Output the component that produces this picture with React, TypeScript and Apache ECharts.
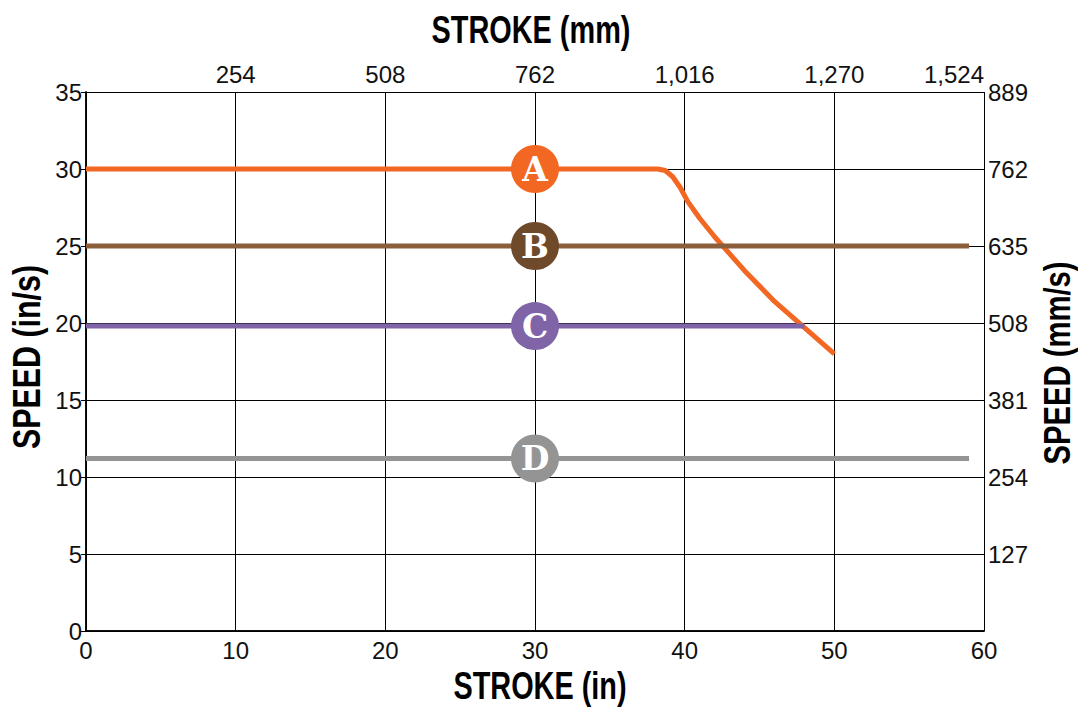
import React, { useEffect, useRef } from "react";
import * as echarts from "echarts";

const strokeIn = [0, 10, 20, 30, 40, 50, 60];
const strokeMmTicks = [0, 254, 508, 762, 1016, 1270, 1524];
const speedMmTicks = [0, 127, 254, 381, 508, 635, 762, 889];

const seriesA: [number, number][] = [
  [0, 30], [38.2, 30], [38.7, 29.9], [39.2, 29.5], [39.7, 28.8], [40.2, 27.9],
  [41, 26.8], [42, 25.6], [44, 23.4], [46, 21.4], [48, 19.7], [50, 18.0],
];
const seriesB: [number, number][] = [[0, 25], [59, 25]];
const seriesC: [number, number][] = [[0, 19.8], [48, 19.8]];
const seriesD: [number, number][] = [[0, 11.2], [59, 11.2]];

const labelNames = ["A", "B", "C", "D"];
const labelX = 30;
const labelY = [30, 25, 19.8, 11.2];
const lineColors = ["#F26722", "#8B5E3C", "#7F65A8", "#949494"];
const dotColors = ["#F26722", "#6E4A2A", "#7F65A8", "#949494"];

const axisTitles = ["STROKE (mm)", "STROKE (in)", "SPEED (in/s)", "SPEED (mm/s)"];

const FONT = "'Liberation Sans', Arial, sans-serif";

export default function App() {
  const ref = useRef<HTMLDivElement>(null);
  useEffect(() => {
    const chart = echarts.init(ref.current!, null, { renderer: "svg" });
    const lines = [seriesA, seriesB, seriesC, seriesD];
    const titleStyle = (text: string) => ({
      text,
      fontFamily: FONT,
      fontWeight: "bold",
      fontSize: 38,
      fill: "#000",
      align: "center",
      verticalAlign: "middle",
    });
    const option: any = {
      animation: false,
      textStyle: { fontFamily: FONT },
      grid: { left: 86, right: 94, top: 92, bottom: 76, containLabel: false },
      graphic: [
        { type: "text", x: 531, y: 29, scaleX: 0.76, style: titleStyle(axisTitles[0]) },
        { type: "text", x: 540, y: 685, scaleX: 0.76, style: titleStyle(axisTitles[1]) },
        { type: "text", x: 27, y: 357, rotation: Math.PI / 2, scaleX: 0.8, style: titleStyle(axisTitles[2]) },
        { type: "text", x: 1057, y: 363, rotation: Math.PI / 2, scaleX: 0.79, style: { ...titleStyle(axisTitles[3]), fontSize: 37 } },
      ],
      xAxis: [
        {
          type: "value", position: "bottom", min: strokeIn[0], max: strokeIn[strokeIn.length - 1], interval: 10,
          axisLine: { show: true, lineStyle: { color: "#000", width: 1.5 } },
          axisTick: { show: false },
          axisLabel: { fontFamily: FONT, fontSize: 24, color: "#111", margin: 7 },
          splitLine: { show: true, lineStyle: { color: "#000", width: 1 } },
        },
        {
          type: "value", position: "top", min: 0, max: strokeMmTicks[strokeMmTicks.length - 1], interval: 254,
          axisLine: { show: true, lineStyle: { color: "#000", width: 1.5 } },
          axisTick: { show: false },
          axisLabel: {
            fontFamily: FONT, fontSize: 24, color: "#111", margin: 6,
            alignMaxLabel: "right",
            formatter: (v: number) => (v === 0 ? "" : v.toLocaleString("en-US")),
          },
          splitLine: { show: false },
        },
      ],
      yAxis: [
        {
          type: "value", position: "left", min: 0, max: 35, interval: 5,
          axisLine: { show: true, lineStyle: { color: "#000", width: 1.5 } },
          axisTick: { show: true, length: 5, lineStyle: { color: "#000", width: 1 } },
          axisLabel: { fontFamily: FONT, fontSize: 24, color: "#111", margin: 4 },
          splitLine: { show: true, lineStyle: { color: "#000", width: 1 } },
        },
        {
          type: "value", position: "right", min: 0, max: speedMmTicks[speedMmTicks.length - 1], interval: 127,
          axisLine: { show: true, lineStyle: { color: "#000", width: 1.5 } },
          axisTick: { show: true, length: 5, lineStyle: { color: "#000", width: 1 } },
          axisLabel: {
            fontFamily: FONT, fontSize: 24, color: "#111", margin: 4,
            alignMaxLabel: "top",
            formatter: (v: number) => (v === 0 ? "" : String(v)),
          },
          splitLine: { show: false },
        },
      ],
      series: [
        ...lines.map((d, i) => ({
          type: "line",
          name: labelNames[i],
          xAxisIndex: 0,
          yAxisIndex: 0,
          data: d,
          showSymbol: false,
          symbol: "none",
          smooth: false,
          lineStyle: { color: lineColors[i], width: 5, join: "round", cap: "butt" },
          z: 3,
        })),
        {
          type: "scatter",
          xAxisIndex: 0,
          yAxisIndex: 0,
          symbolSize: 48,
          z: 5,
          data: labelNames.map((n, i) => ({
            value: [labelX, labelY[i]],
            name: n,
            itemStyle: { color: dotColors[i], opacity: 1 },
          })),
          itemStyle: { opacity: 1 },
          label: {
            show: true,
            position: "inside",
            formatter: (p: any) => p.name,
            fontFamily: "'DejaVu Serif', serif",
            fontWeight: "bold",
            fontSize: 33,
            color: "#fff",
          },
        },
      ],
    };
    chart.setOption(option);
    return () => chart.dispose();
  }, []);
  return <div ref={ref} style={{ width: 1078, height: 707, position: "absolute", left: 0, top: 0 }} />;
}
